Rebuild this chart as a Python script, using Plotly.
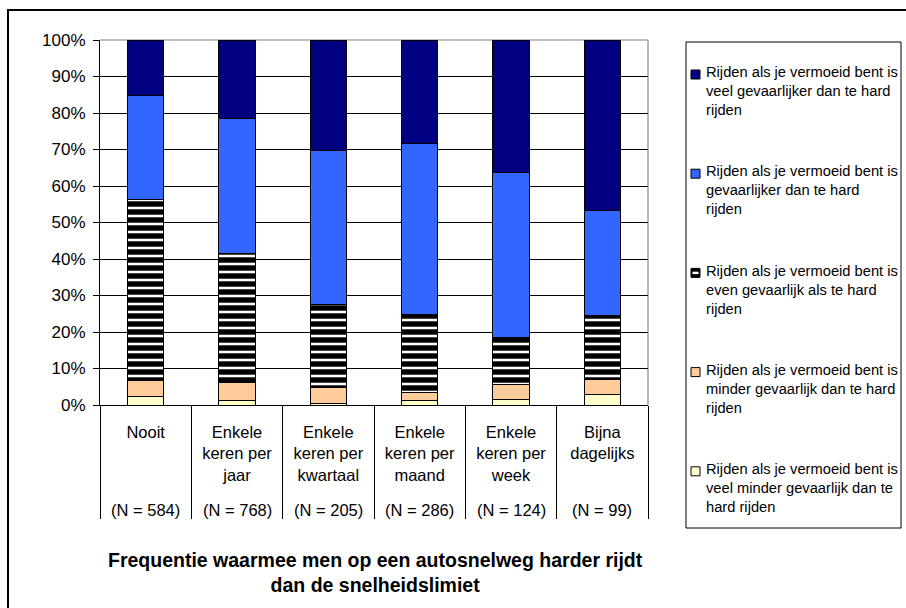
import plotly.graph_objects as go

# ---------------- data ----------------
cat_labels = ["Nooit", "Enkele<br>keren per<br>jaar", "Enkele<br>keren per<br>kwartaal",
              "Enkele<br>keren per<br>maand", "Enkele<br>keren per<br>week", "Bijna<br>dagelijks"]
n_labels = ["(N = 584)", "(N = 768)", "(N = 205)", "(N = 286)", "(N = 124)", "(N = 99)"]

# stacked bottom -> top (percentages)
veel_minder = [2.3, 1.3, 0.5, 1.1, 1.6, 3.0]
minder = [4.3, 5.0, 4.3, 2.4, 4.1, 4.0]
even = [49.6, 35.2, 22.6, 21.4, 12.8, 17.4]
gevaarlijker = [28.7, 37.0, 42.3, 46.8, 45.1, 29.0]
veel_gevaarlijker = [15.1, 21.5, 30.3, 28.3, 36.4, 46.6]

series_names = [
    "Rijden als je vermoeid bent is<br>veel minder gevaarlijk dan te<br>hard rijden",
    "Rijden als je vermoeid bent is<br>minder gevaarlijk dan te hard<br>rijden",
    "Rijden als je vermoeid bent is<br>even gevaarlijk als te hard<br>rijden",
    "Rijden als je vermoeid bent is<br>gevaarlijker dan te hard<br>rijden",
    "Rijden als je vermoeid bent is<br>veel gevaarlijker dan te hard<br>rijden",
]
series_values = [veel_minder, minder, even, gevaarlijker, veel_gevaarlijker]
series_colors = ["#FFFFCC", "#FFCC99", "#FFFFFF", "#3366FF", "#000080"]
striped = [False, False, True, False, False]

y_ticks = [0, 10, 20, 30, 40, 50, 60, 70, 80, 90, 100]
y_tick_labels = ["0%", "10%", "20%", "30%", "40%", "50%", "60%", "70%", "80%", "90%", "100%"]
x_title = "<b>Frequentie waarmee men op een autosnelweg harder rijdt<br>dan de snelheidslimiet</b>"

# ---------------- layout geometry (pixels) ----------------
W, H = 906, 608
L, R, T, B = 100, 648, 40, 405
PW, PH = R - L, B - T


def px(p):
    return (p - L) / PW


def py(p):
    return (B - p) / PH


FONT = "Liberation Sans, Arial, sans-serif"
AX_FONT = 16.5

fig = go.Figure()
for name, vals, col, st in zip(series_names, series_values, series_colors, striped):
    marker = dict(color=col, line=dict(color="black", width=1))
    if st:
        marker["pattern"] = dict(shape="-", fgcolor="#000000", bgcolor="#FFFFFF",
                                 fgopacity=1, fillmode="replace",
                                 size=8, solidity=0.68)
    fig.add_trace(go.Bar(x=cat_labels, y=vals, name=name, marker=marker, width=0.4,
                         showlegend=False))

shapes = []
annotations = []

# outer chart frame
shapes.append(dict(type="rect", xref="paper", yref="paper",
                   x0=px(8), x1=px(912), y0=py(10), y1=py(615),
                   line=dict(color="black", width=2), layer="above"))
# plot area border top / right (grey)
shapes.append(dict(type="line", xref="paper", yref="paper", x0=0, x1=1, y0=1, y1=1,
                   line=dict(color="#808080", width=1), layer="between"))
shapes.append(dict(type="line", xref="paper", yref="paper", x0=1, x1=1, y0=0, y1=1,
                   line=dict(color="#A0A0A0", width=1.5), layer="between"))

# legend box
shapes.append(dict(type="rect", xref="paper", yref="paper",
                   x0=px(686), x1=px(901), y0=py(42), y1=py(528),
                   line=dict(color="black", width=1), fillcolor="white", layer="above"))

# legend entries (top to bottom = reversed stacking order)
order = list(range(len(series_names)))[::-1]
for k, i in enumerate(order):
    cy = 74.5 + 99.2 * k
    shapes.append(dict(type="rect", xref="paper", yref="paper",
                       x0=px(691), x1=px(700), y0=py(cy - 4.5), y1=py(cy + 4.5),
                       fillcolor="black" if striped[i] else series_colors[i],
                       line=dict(color="black", width=1), layer="above"))
    if striped[i]:
        shapes.append(dict(type="rect", xref="paper", yref="paper",
                           x0=px(692.5), x1=px(698.5), y0=py(cy - 1.2), y1=py(cy + 1.2),
                           fillcolor="white", line=dict(width=0), layer="above"))
    annotations.append(dict(xref="paper", yref="paper", x=px(703.5), y=py(cy + 16.7),
                            xanchor="left", yanchor="middle", align="left",
                            text=series_names[i], showarrow=False,
                            font=dict(family=FONT, size=14.7, color="black")))

# N labels under the categories
for xi, nl in enumerate(n_labels):
    annotations.append(dict(xref="x", yref="paper", x=xi, y=py(510),
                            xanchor="center", yanchor="middle", text=nl, showarrow=False,
                            font=dict(family=FONT, size=AX_FONT, color="black")))

# x-axis title
annotations.append(dict(xref="paper", yref="paper", x=px(375), y=py(572.5),
                        xanchor="center", yanchor="middle", text=x_title, showarrow=False,
                        font=dict(family=FONT, size=19.5, color="black")))

fig.update_layout(
    width=W, height=H,
    margin=dict(l=L, r=W - R, t=T, b=H - B, pad=0),
    barmode="stack",
    plot_bgcolor="white", paper_bgcolor="white",
    font=dict(family=FONT, size=AX_FONT, color="black"),
    shapes=shapes, annotations=annotations,
    showlegend=False,
)
fig.update_xaxes(
    type="category", categoryorder="array", categoryarray=cat_labels,
    ticks="outside", tickson="boundaries", ticklen=113, tickcolor="black", tickwidth=1,
    ticklabelstandoff=12,
    showline=True, linecolor="black", linewidth=1,
    showgrid=False, zeroline=False,
    tickfont=dict(family=FONT, size=AX_FONT, color="black"),
)
fig.update_yaxes(
    range=[0, 100], tickmode="array", tickvals=y_ticks, ticktext=y_tick_labels,
    ticks="outside", ticklen=6, tickcolor="black", tickwidth=1,
    ticklabelstandoff=4,
    showline=True, linecolor="black", linewidth=1,
    showgrid=True, gridcolor="black", gridwidth=1, zeroline=False,
    tickfont=dict(family=FONT, size=17, color="black"),
)

fig.write_html("out.html")
